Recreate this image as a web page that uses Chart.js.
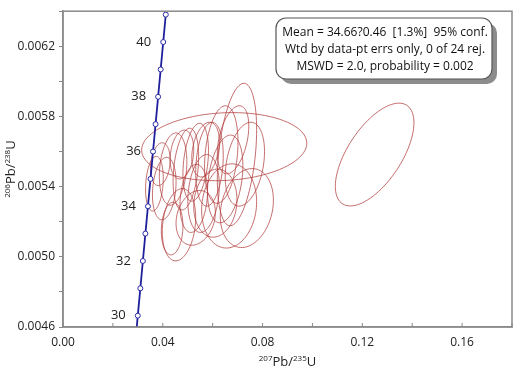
<!DOCTYPE html>
<html>
<head>
<meta charset="utf-8">
<script src="https://cdn.jsdelivr.net/npm/chart.js@4.4.1/dist/chart.umd.min.js"></script>
<style>
  html, body { margin: 0; padding: 0; background: #fff; }
  #wrap { width: 520px; height: 370px; }
</style>
</head>
<body>
<div id="wrap"><canvas id="chart" width="520" height="370"></canvas></div>
<script>
// Concordia curve (ages in Ma) and its ratios
const ages = [29, 30, 31, 32, 33, 34, 35, 36, 37, 38, 39, 40, 41];
const concX = [0.028972, 0.029986, 0.031001, 0.032017, 0.033034, 0.034052, 0.035071, 0.036091, 0.037112, 0.038133, 0.039156, 0.040180, 0.041205];
const concY = [0.0045088, 0.0046646, 0.0048205, 0.0049763, 0.0051323, 0.0052882, 0.0054442, 0.0056001, 0.0057561, 0.0059122, 0.0060682, 0.0062243, 0.0063804];
const ageLabels = [30, 32, 34, 36, 38, 40];

// Error ellipses: centre, half-extent on each axis, error correlation
const ellX = [0.06975, 0.06345, 0.05872, 0.05320, 0.04926, 0.04414, 0.07291, 0.03665, 0.04059, 0.04374, 0.04650, 0.05241,
              0.05635, 0.06108, 0.06660, 0.07370, 0.06502, 0.04768, 0.05714, 0.06818, 0.05320, 0.03901, 0.06463, 0.12493];
const ellY = [0.005583, 0.005583, 0.005528, 0.005539, 0.005500, 0.005500, 0.005528, 0.005417, 0.005389, 0.005161, 0.005183, 0.005333,
              0.005361, 0.005306, 0.005290, 0.005278, 0.005444, 0.005583, 0.005611, 0.005667, 0.005222, 0.005528, 0.005628, 0.005583];
const errX = [0.00788, 0.00670, 0.00552, 0.00512, 0.00512, 0.00552, 0.00788, 0.00355, 0.00473, 0.00433, 0.00670, 0.00552,
              0.00630, 0.00867, 0.01103, 0.01065, 0.00709, 0.00473, 0.00552, 0.00630, 0.00788, 0.00394, 0.03310, 0.01576];
const errY = [0.000406, 0.000278, 0.000239, 0.000222, 0.000233, 0.000206, 0.000239, 0.000156, 0.000178, 0.000150, 0.000206, 0.000194,
              0.000222, 0.000194, 0.000240, 0.000225, 0.000250, 0.000139, 0.000156, 0.000194, 0.000156, 0.000122, 0.000194, 0.000293];
const rho = [0.35, 0.25, 0.2, 0.3, 0.3, 0.2, 0.3, 0.2, 0.2, 0.1, 0.2, 0.2,
             0.2, 0.1, 0.1, 0.2, 0.3, 0.2, 0.3, 0.4, 0.2, 0.2, 0.1, 0.62];

const boxLines = [
  'Mean = 34.66?0.46  [1.3%]  95% conf.',
  'Wtd by data-pt errs only, 0 of 24 rej.',
  'MSWD = 2.0, probability = 0.002'
];

const FONT = '"Open Sans", "DejaVu Sans", sans-serif';

// ellipses, drawn through the chart scales
const ellipsePlugin = {
  id: 'ellipses',
  beforeDatasetsDraw(chart) {
    const { ctx, chartArea, scales: { x, y } } = chart;
    ctx.save();
    ctx.beginPath();
    ctx.rect(chartArea.left, chartArea.top, chartArea.right - chartArea.left, chartArea.bottom - chartArea.top);
    ctx.clip();
    ctx.strokeStyle = 'rgba(178, 62, 62, 0.75)';
    ctx.lineWidth = 1;
    for (let i = 0; i < ellX.length; i++) {
      const r = rho[i], q = Math.sqrt(1 - r * r);
      ctx.beginPath();
      for (let k = 0; k <= 90; k++) {
        const t = k / 90 * Math.PI * 2;
        const vx = ellX[i] + errX[i] * Math.cos(t);
        const vy = ellY[i] + errY[i] * (r * Math.cos(t) + q * Math.sin(t));
        const px = x.getPixelForValue(vx), py = y.getPixelForValue(vy);
        if (k === 0) ctx.moveTo(px, py); else ctx.lineTo(px, py);
      }
      ctx.closePath();
      ctx.stroke();
    }
    ctx.restore();
  }
};

function supText(ctx, parts, x, y) {
  // parts: [text, isSup]; draws centred on x
  let w = 0;
  parts.forEach(p => { ctx.font = p[1] ? '8px ' + FONT : '13px ' + FONT; w += ctx.measureText(p[0]).width; });
  let cx = x - w / 2;
  parts.forEach(p => {
    ctx.font = p[1] ? '8px ' + FONT : '13px ' + FONT;
    ctx.fillText(p[0], cx, p[1] ? y - 5 : y);
    cx += ctx.measureText(p[0]).width;
  });
}

const decorPlugin = {
  id: 'decor',
  afterDraw(chart) {
    const { ctx, chartArea: a, scales: { x, y } } = chart;
    ctx.save();
    // frame
    ctx.strokeStyle = '#8a8a8a';
    ctx.lineWidth = 1.5;
    ctx.strokeRect(a.left, a.top, a.right - a.left, a.bottom - a.top);
    // x ticks pointing inward
    ctx.lineWidth = 1;
    x.ticks.forEach(t => {
      const px = x.getPixelForValue(t.value);
      ctx.beginPath();
      ctx.moveTo(px, a.bottom);
      ctx.lineTo(px, a.bottom - 4);
      ctx.stroke();
    });
    // age labels on concordia
    ctx.fillStyle = '#222';
    ctx.font = '13px ' + FONT;
    ctx.textAlign = 'right';
    ctx.textBaseline = 'middle';
    ageLabels.forEach(ag => {
      const i = ages.indexOf(ag);
      ctx.fillText(String(ag), x.getPixelForValue(concX[i]) - 12, y.getPixelForValue(concY[i]));
    });
    // axis titles
    ctx.textAlign = 'left';
    ctx.textBaseline = 'alphabetic';
    ctx.fillStyle = '#222';
    supText(ctx, [['207', true], ['Pb/', false], ['235', true], ['U', false]], (a.left + a.right) / 2, 366);
    ctx.save();
    ctx.translate(15, (a.top + a.bottom) / 2);
    ctx.rotate(-Math.PI / 2);
    supText(ctx, [['206', true], ['Pb/', false], ['238', true], ['U', false]], 0, 0);
    ctx.restore();
    // text box with shadow
    const bx = 276, by = 18, bw = 216, bh = 61, rad = 10;
    ctx.fillStyle = '#8c8c8c';
    ctx.beginPath();
    ctx.roundRect(bx + 5, by + 5, bw, bh, rad);
    ctx.fill();
    ctx.fillStyle = '#fff';
    ctx.strokeStyle = '#555';
    ctx.lineWidth = 1.2;
    ctx.beginPath();
    ctx.roundRect(bx, by, bw, bh, rad);
    ctx.fill();
    ctx.stroke();
    ctx.fillStyle = '#111';
    ctx.font = '12px ' + FONT;
    ctx.textAlign = 'center';
    ctx.textBaseline = 'middle';
    boxLines.forEach((s, i) => ctx.fillText(s, bx + bw / 2 + 1, by + 15 + i * 17));
    ctx.restore();
  }
};

new Chart(document.getElementById('chart'), {
  type: 'scatter',
  data: {
    datasets: [{
      label: 'Concordia',
      data: concX.map((v, i) => ({ x: v, y: concY[i] })),
      showLine: true,
      borderColor: '#1f1f9c',
      borderWidth: 1.8,
      pointRadius: 2.5,
      pointBackgroundColor: '#fff',
      pointBorderColor: '#2a2aa8',
      pointBorderWidth: 1
    }]
  },
  options: {
    responsive: false,
    animation: false,
    layout: { padding: { top: 3, right: 2, left: 0, bottom: 0 } },
    plugins: { legend: { display: false }, tooltip: { enabled: false } },
    scales: {
      x: {
        type: 'linear',
        min: 0, max: 0.18,
        afterFit: s => { s.height = 43; },
        ticks: {
          stepSize: 0.02,
          padding: 8,
          color: '#222',
          font: { family: FONT, size: 12 },
          callback: (v, i) => i % 2 === 0 ? v.toFixed(2) : ''
        },
        grid: { drawOnChartArea: false, drawTicks: false },
        border: { color: '#8a8a8a', width: 1.5 }
      },
      y: {
        type: 'linear',
        min: 0.0046, max: 0.0064,
        afterFit: s => { s.width = 63; },
        ticks: {
          stepSize: 0.0002,
          padding: 4,
          color: '#222',
          font: { family: FONT, size: 12 },
          callback: (v, i) => i % 2 === 0 ? v.toFixed(4) : ''
        },
        grid: { drawOnChartArea: false, tickLength: 4, color: '#8a8a8a' },
        border: { color: '#8a8a8a', width: 1.5 }
      }
    }
  },
  plugins: [ellipsePlugin, decorPlugin]
});
</script>
</body>
</html>
